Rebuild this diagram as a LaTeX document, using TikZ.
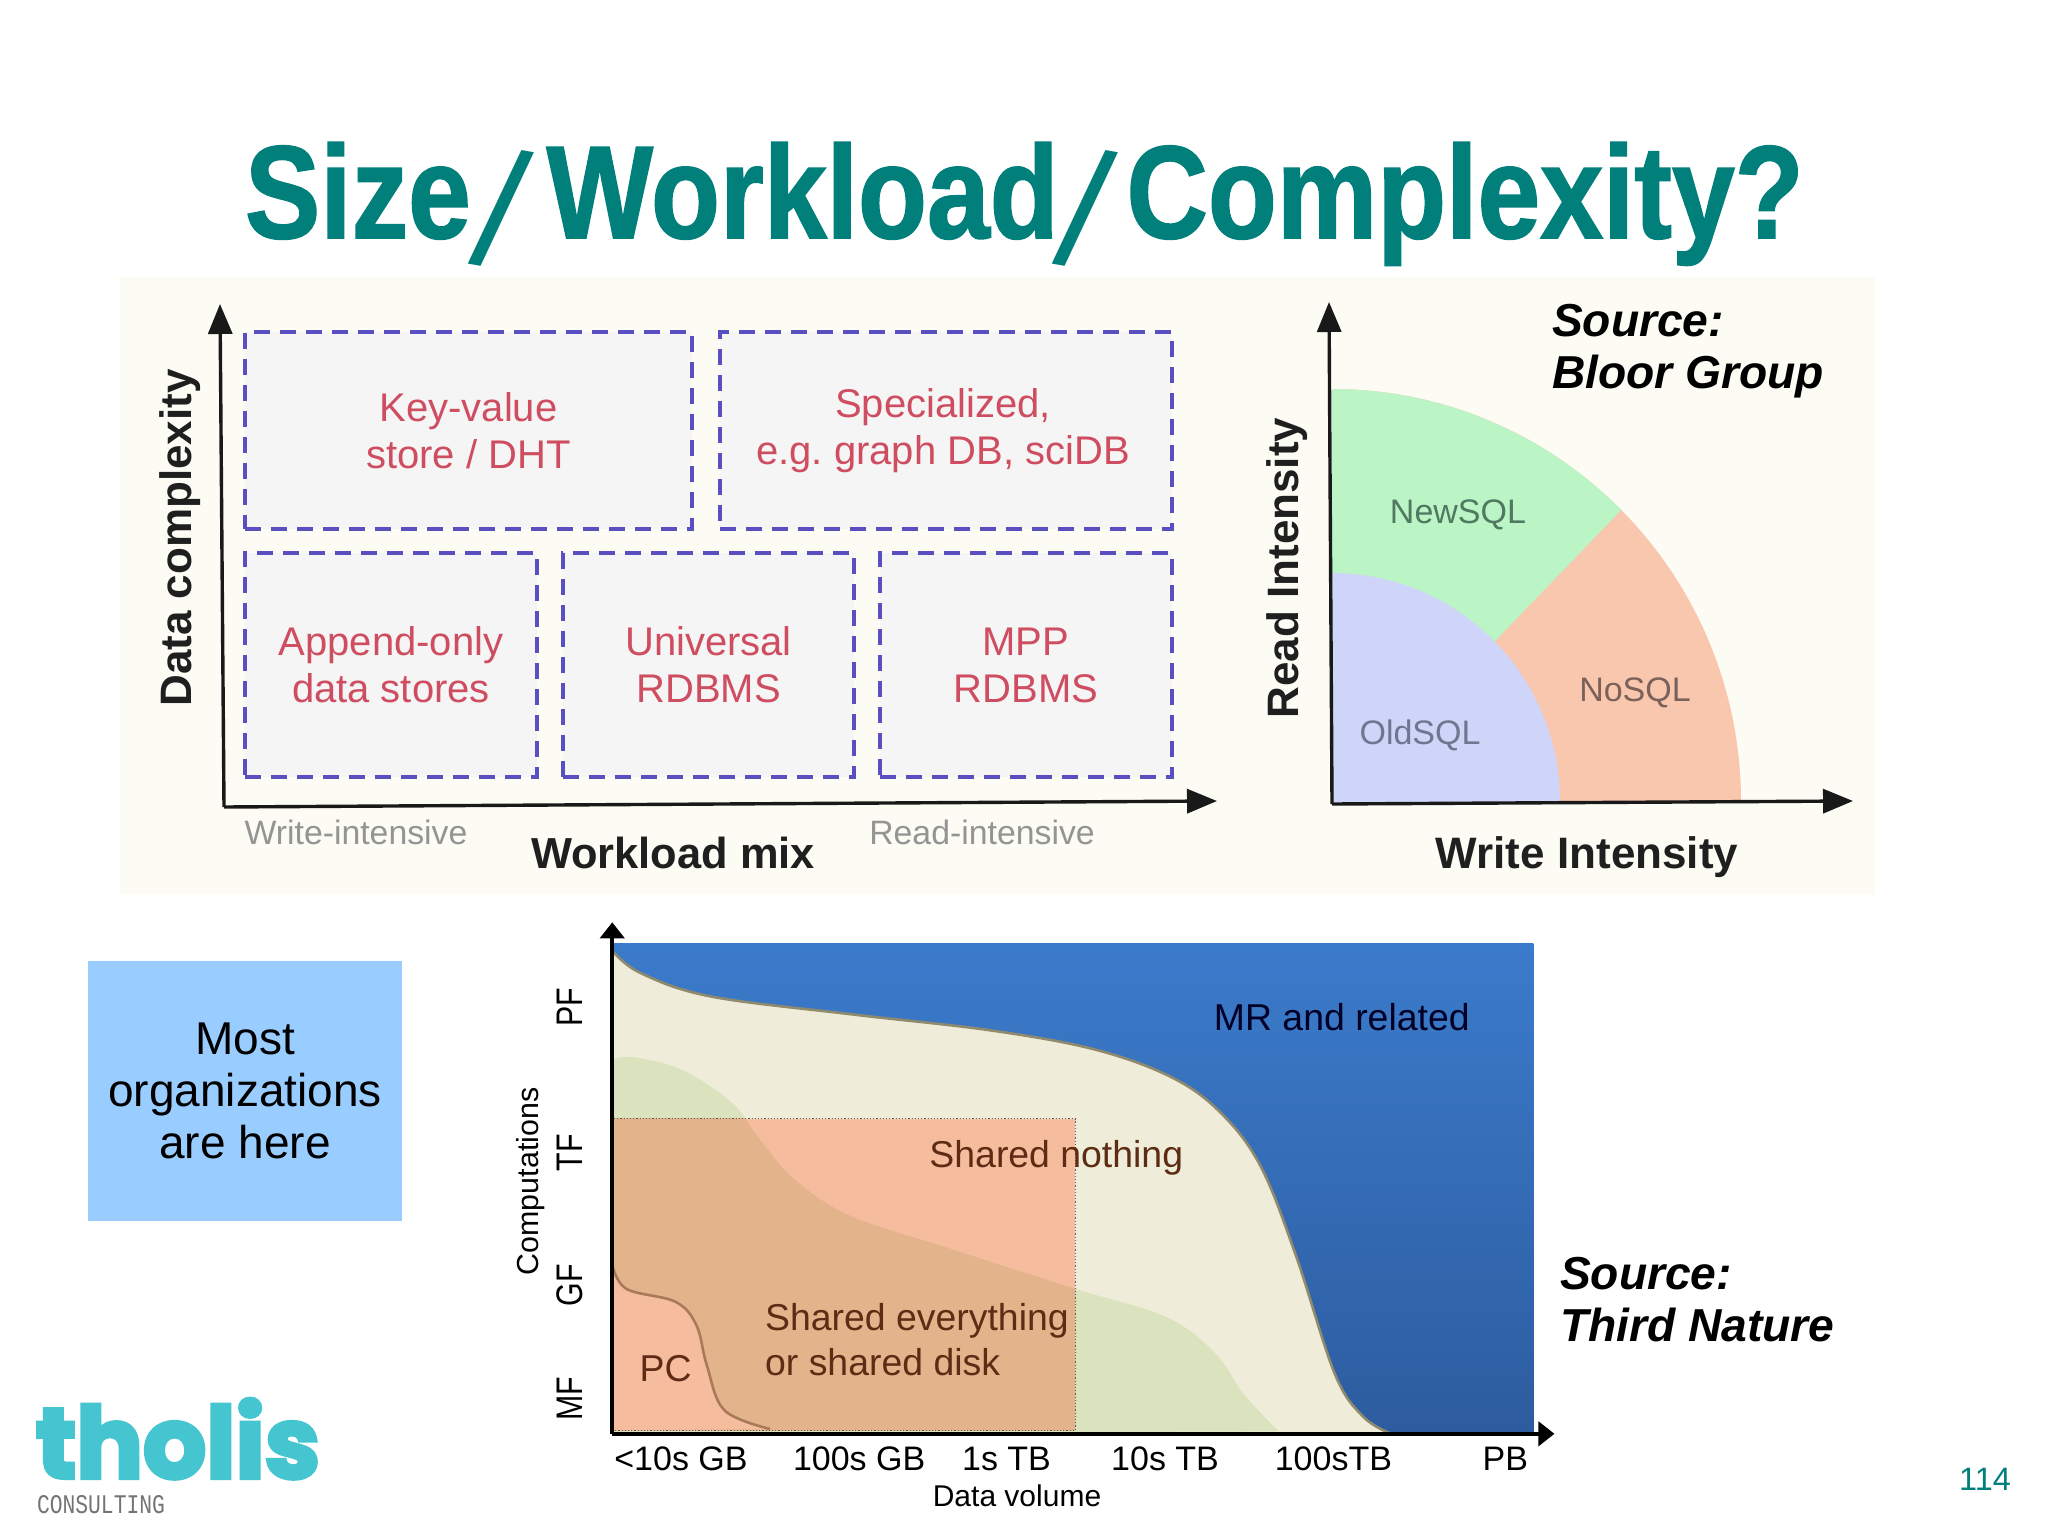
\documentclass[tikz,border=0pt]{standalone}
\usepackage{fontspec}
\usetikzlibrary{arrows.meta}
\setmainfont{Liberation Sans}
\newfontfamily\titlefont[BoldFeatures={FakeBold=1.4}]{Liberation Sans}
\newfontfamily\logofont[BoldFeatures={FakeBold=4}]{Poppins}
\newfontfamily\logosub{Liberation Mono}
\newcommand\fsz[2]{\fontsize{#1pt}{#2pt}\selectfont}
\newcommand\tword[1]{\scalebox{0.855}[1]{\titlefont\bfseries #1}}
\newcommand\tslash[2]{\kern#1pt\raisebox{-12.5pt}{\rotatebox{-10}{\scalebox{1.25}{\mdseries /}}}\kern#2pt}
\frenchspacing
\definecolor{teal0}{HTML}{007F7B}
\definecolor{panelbg}{HTML}{FCFCF4}
\definecolor{dashc}{HTML}{5A4FC0}
\definecolor{redtxt}{HTML}{CF4D60}
\definecolor{brown0}{HTML}{5E2C14}
\definecolor{qgreen}{HTML}{BBF5C6}
\definecolor{qsalmon}{HTML}{F9C6AE}
\definecolor{qblue}{HTML}{CED5F8}
\definecolor{boxblue}{HTML}{99CCFF}
\definecolor{chtop}{HTML}{3B7BCB}
\definecolor{chbot}{HTML}{2D5C9F}
\definecolor{cream}{HTML}{EFEDD9}
\definecolor{cgreen}{HTML}{DAE3BE}
\definecolor{csalm}{HTML}{F6BC9E}
\definecolor{coverl}{HTML}{E3B48B}
\definecolor{edgecream}{HTML}{8F8A6E}
\definecolor{edgepc}{HTML}{A87A5A}
\tikzset{
  txt/.style={inner sep=0pt,outer sep=0pt,text=black},
  dbox/.style={draw=dashc,fill=black!4,line width=1.6pt,dash pattern=on 8pt off 5pt,inner sep=0pt,align=center,text=redtxt,font=\fsz{20}{23.5}},
  boxtext/.style={txt,align=center,text=redtxt,font=\fsz{20}{23.5}},
  boldlab/.style={txt,font=\fsz{22}{26}\bfseries,text=black!88},
  greylab/.style={txt,font=\fsz{16.9}{20},text=black!42},
  axis/.style={line width=1.7pt,black!90,-{Triangle[length=15pt,width=12pt]}},
  axissm/.style={line width=2pt,black,-{Triangle[length=8pt,width=12pt]}},
  sector/.style={txt,font=\fsz{17}{20}},
  srclab/.style={txt,align=left,anchor=west,font=\fsz{23.1}{26}\bfseries\itshape},
  chartlab/.style={txt,font=\fsz{18.7}{22}},
  ticklab/.style={txt,font=\fsz{17}{20}},
  edgeline/.style={line width=1.3pt},
}
\begin{document}
\begin{tikzpicture}[x=0.5pt,y=-0.5pt]
\useasboundingbox (0,0) rectangle (2048,1535);
\fill[white] (0,0) rectangle (2048,1535);
% title
\node (title) [txt,anchor=base west,text=teal0] at (245,238) {\fsz{66}{70}\tword{Size}\tslash{-1.5}{6.25}\tword{Workload}\tslash{-3}{3.8}\tword{Complexity?}};
% panel
\fill[panelbg] (120,277) rectangle (1875,895);
% left quadrant
\coordinate (o1) at (224,807);
\coordinate (y1) at (220,304);
\coordinate (x1) at (1217,801);
\node (kv) [dbox,minimum width=223.5pt,minimum height=98.5pt] at (468.5,430.5) {Key-value\\store / DHT};
\node (spec) [dbox,minimum width=226pt,minimum height=98.5pt] at (946,430.5) {};
\node (spect) [boxtext] at (943,431) {Specialized,\\e.g. graph DB, sciDB};
\node (app) [dbox,minimum width=146pt,minimum height=112pt] at (391,665) {Append-only\\data stores};
\node (uni) [dbox,minimum width=145.5pt,minimum height=112pt] at (708.5,665) {Universal\\RDBMS};
\node (mpp) [dbox,minimum width=146pt,minimum height=112pt] at (1026,665) {MPP\\RDBMS};
\draw[axis] (o1) -- (y1);
\draw[axis] (o1) -- (x1);
\node (dc) [boldlab,rotate=90] at (180,538) {Data complexity};
\node (wm) [boldlab,font=\fsz{21.7}{26}\bfseries] at (673,853) {Workload mix};
\node (wi) [greylab] at (356,832) {Write-intensive};
\node (ri) [greylab] at (982,832) {Read-intensive};
% right quadrant
\coordinate (o2) at (1332,804);
\coordinate (y2) at (1329,302);
\coordinate (x2) at (1853,801);
\fill[qsalmon] (1332,802) -- (1741,802) arc[start angle=0,end angle=-90,x radius=409,y radius=413] -- cycle;
\fill[qgreen] (1332,389) arc[start angle=-90,end angle=-45,x radius=409,y radius=413] -- (1496,640) -- (1332,802) -- cycle;
\fill[qblue] (1332,802) -- (1560,802) arc[start angle=0,end angle=-90,x radius=228,y radius=229] -- cycle;
\draw[axis] (o2) -- (y2);
\draw[axis] (o2) -- (x2);
\node (newsql) [sector,text={rgb,255:red,79;green,122;blue,96}] at (1458,515) {NewSQL};
\node (nosql) [sector,text={rgb,255:red,122;green,98;blue,90}] at (1635,693) {NoSQL};
\node (oldsql) [sector,text={rgb,255:red,111;green,118;blue,144}] at (1420,735) {OldSQL};
\node (rint) [boldlab,rotate=90] at (1287,568) {Read Intensity};
\node (wint) [boldlab] at (1587,857) {Write Intensity};
\node (src1) [srclab] at (1552,351) {Source:\\Bloor Group};
% blue box
\node (most) [fill=boxblue,draw=none,minimum width=157pt,minimum height=130pt,inner sep=0pt,align=center,font=\fsz{23}{26.1}] at (245,1091) {Most\\organizations\\are here};
% bottom chart, in crop coordinates
\begin{scope}[shift={(500,900)},xscale=0.7015,yscale=0.405]
\shade[top color=chtop,middle color=chtop!70!chbot,bottom color=chbot] (160,108) rectangle (1473,1318);
\def\creamcurve{(160,125) (200,180) (300,238) (500,282) (700,322) (850,370) (960,440) (1030,530) (1085,660) (1135,880) (1190,1170) (1230,1275) (1268,1316)}
\fill[cream] (160,1318) -- plot[smooth,tension=0.6] coordinates {\creamcurve} -- cycle;
\draw[edgeline,edgecream] plot[smooth,tension=0.6] coordinates {\creamcurve};
\def\greencurve{(160,395) (190,388) (260,420) (330,500) (370,590) (420,690) (500,780) (640,860) (820,960) (950,1030) (1020,1120) (1060,1220) (1110,1312)}
\fill[cgreen] (160,1318) -- plot[smooth,tension=0.6] coordinates {\greencurve} -- cycle;
\fill[csalm] (160,540) rectangle (820,1310);
\begin{scope}
\clip (160,540) rectangle (820,1310);
\fill[coverl] (160,1318) -- plot[smooth,tension=0.6] coordinates {\greencurve} -- cycle;
\end{scope}
\def\pccurve{(160,900) (180,960) (250,992) (280,1050) (295,1150) (320,1260) (385,1306)}
\fill[csalm] (160,1310) -- plot[smooth,tension=0.6] coordinates {\pccurve} -- cycle;
\draw[edgeline,edgepc] plot[smooth,tension=0.6] coordinates {\pccurve};
\draw[line width=0.6pt,densely dotted,black!65] (160,1310) -- (160,540) -- (820,540) -- (820,1310) -- cycle;
\coordinate (o3) at (160,1318);
\coordinate (y3) at (160,55);
\coordinate (x3) at (1503,1318);
\draw[axissm] (o3) -- (y3);
\draw[axissm] (o3) -- (x3);
\node (mr) [chartlab,text=black!85!blue] at (1200,288) {MR and related};
\node (sn) [chartlab,text=brown0] at (793,636) {Shared nothing};
\node (se) [chartlab,text=brown0,anchor=west] at (378,1039) {Shared everything};
\node (sd) [chartlab,text=brown0,anchor=west] at (378,1141) {or shared disk};
\node (pc) [chartlab,text=brown0] at (236,1157) {PC};
\node (t1) [ticklab] at (258,1380) {<10s GB};
\node (t2) [ticklab] at (512,1380) {100s GB};
\node (t3) [ticklab] at (722,1380) {1s TB};
\node (t4) [ticklab] at (948,1380) {10s TB};
\node (t5) [ticklab] at (1188,1380) {100sTB};
\node (t6) [ticklab] at (1433,1380) {PB};
\node (dv) [txt,font=\fsz{15}{18}] at (737,1470) {Data volume};
\node (pf) [txt,rotate=90] at (100,264) {\fsz{18.5}{22}\scalebox{0.82}[1]{PF}};
\node (tf) [txt,rotate=90] at (100,624) {\fsz{18.5}{22}\scalebox{0.82}[1]{TF}};
\node (gf) [txt,rotate=90] at (100,951) {\fsz{18.5}{22}\scalebox{0.82}[1]{GF}};
\node (mf) [txt,rotate=90] at (100,1231) {\fsz{18.5}{22}\scalebox{0.82}[1]{MF}};
\node (comp) [txt,rotate=90,font=\fsz{15.2}{18}] at (44,695) {Computations};
\end{scope}
\node (src2) [srclab] at (1560,1300) {Source:\\Third Nature};
% logo
\node (logo) [txt,anchor=base west,text={rgb,255:red,69;green,197;blue,208}] at (36,1478) {\resizebox{142pt}{!}{\logofont\bfseries tholis}};
\node (cons) [txt,anchor=base west,text=black!55] at (37,1513) {\resizebox{64pt}{9pt}{\logosub CONSULTING}};
% page number
\node (pg) [txt,text=teal0,font=\fsz{16.2}{18}] at (1985,1479) {114};
\end{tikzpicture}
\end{document}
